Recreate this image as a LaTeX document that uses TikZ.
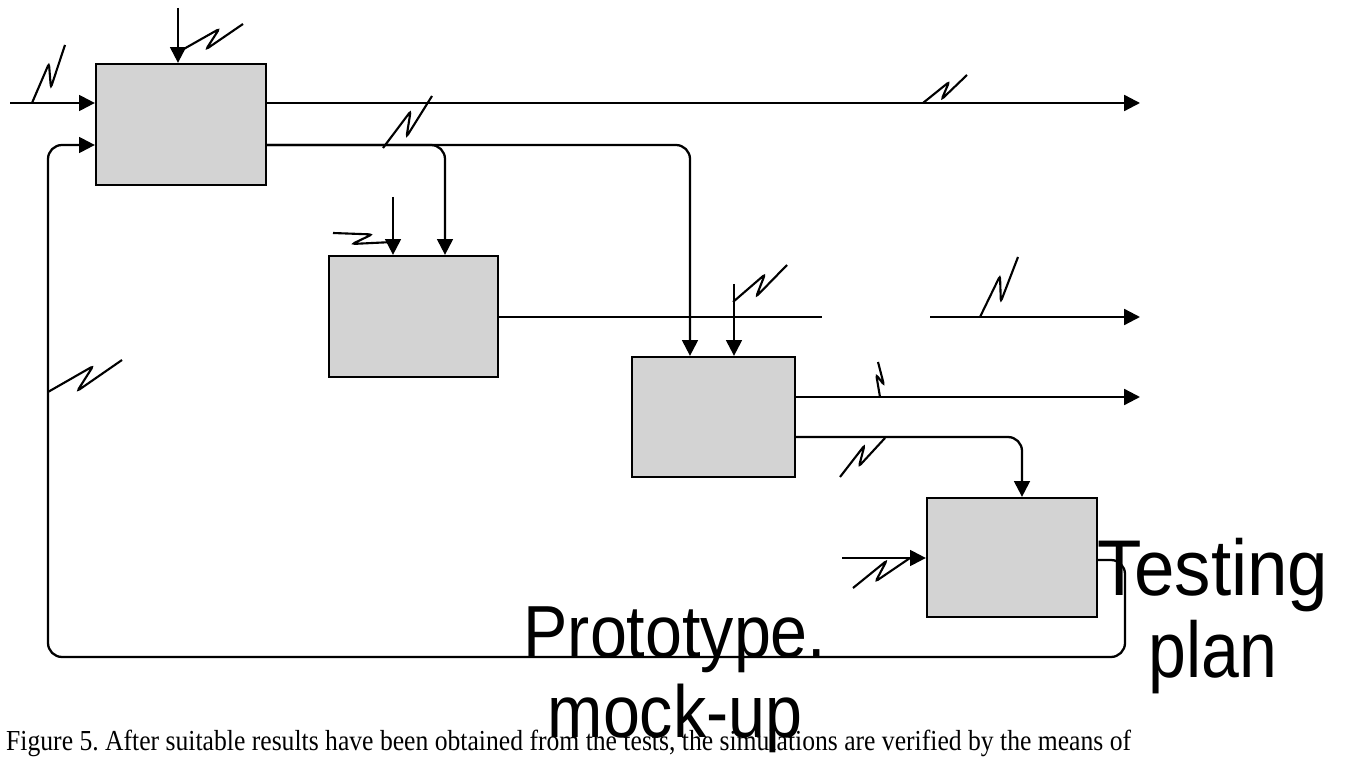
\documentclass[tikz,border=0pt]{standalone}
\usepackage{fontspec}
\setmainfont{Liberation Serif}
\newfontfamily\labelfont{Liberation Sans}
\usetikzlibrary{positioning, calc, arrows.meta}
\definecolor{boxgray}{RGB}{211,211,211}
\tikzset{
    fbox/.style={draw, line width=1.3pt, fill=boxgray, inner sep=0pt},
    flow/.style={line width=1.3pt, -{Triangle[length=9pt,width=9pt]}},
    plain/.style={line width=1.3pt},
    zig/.style={line width=1.2pt, rounded corners=1.5pt},
    bigtext/.style={font=\labelfont\fontsize{45}{46.6}\selectfont, align=center, inner sep=0pt}
}
% IDEF0 squiggle tying a label to its arrow
\newcommand{\zigzag}[2]{\draw[zig] (#1) -- ($(#1)!0.64!(#2)!0.2!90:(#2)$) -- ($(#1)!0.34!(#2)!0.2!-90:(#2)$) -- (#2);}

\begin{document}
\frenchspacing
\begin{tikzpicture}[x=0.02cm, y=-0.02cm]
            \useasboundingbox (0,0) rectangle (1345,766);
            % boxes
            \node[fbox, minimum width=3.4cm, minimum height=2.42cm] (A1) at (181,124.5) {};
            \node[fbox, minimum width=3.38cm, minimum height=2.42cm] (A2) at (413.5,316.5) {};
            \node[fbox, minimum width=3.26cm, minimum height=2.4cm] (A3) at (713.5,417) {};
            \node[fbox, minimum width=3.4cm, minimum height=2.38cm] (A4) at (1012,557.5) {};
            % A1
            \coordinate (in1) at (10,103);
            \coordinate (c1) at (178,8);
            \coordinate (o1) at (1140,103);
            \coordinate (split) at (445,145);
            \coordinate (t3) at (690,145);
            \draw[flow] (in1) -- (in1 -| A1.west);
            \draw[flow] (c1) -- (c1 |- A1.north);
            \draw[flow] (A1.east |- o1) -- (o1);
            \draw[flow, rounded corners=8pt] (A1.east |- split) -- (split) -- (split |- A2.north);
            \draw[flow, rounded corners=8pt] (A1.east |- t3) -- (t3) -- (t3 |- A3.north);
            % A2
            \coordinate (c2) at (393,197);
            \coordinate (gapL) at (822,317);
            \coordinate (gapR) at (930,317);
            \coordinate (o2) at (1140,317);
            \draw[flow] (c2) -- (c2 |- A2.north);
            \draw[plain] (A2.east |- gapL) -- (gapL);
            \draw[flow] (gapR) -- (o2);
            % A3
            \coordinate (c3) at (734,284);
            \coordinate (o3) at (1140,397);
            \coordinate (t4) at (1022,437);
            \draw[flow] (c3) -- (c3 |- A3.north);
            \draw[flow] (A3.east |- o3) -- (o3);
            \draw[flow, rounded corners=8pt] (A3.east |- t4) -- (t4) -- (t4 |- A4.north);
            % A4 and feedback
            \coordinate (in4) at (842,558);
            \coordinate (fb) at (1125,560);
            \coordinate (fbR) at (1125,657);
            \coordinate (fbL) at (48,657);
            \coordinate (fbT) at (48,145);
            \draw[flow] (in4) -- (in4 -| A4.west);
            \draw[flow, rounded corners=8pt] (A4.east |- fb) -- (fb) -- (fbR) -- (fbL) -- (fbT) -- (fbT -| A1.west);
            % squiggles
            \zigzag{32,103}{65,45}
            \zigzag{182,50}{243,24}
            \zigzag{383,148}{432,96}
            \zigzag{923,103}{967,75}
            \zigzag{333,233}{393,242}
            \zigzag{733,302}{787,265}
            \zigzag{980,317}{1018,257}
            \zigzag{880,397}{878,362}
            \zigzag{885,438}{840,477}
            \zigzag{910,558}{853,588}
            \zigzag{48,392}{122,360}
            % texts
            \node[anchor=base west, font=\fontsize{16.5}{18}\selectfont] (cap) at (0,750)
                {\resizebox{22.5cm}{\height}{Figure 5. After suitable results have been obtained from the tests, the simulations are verified by the means of}};
            \node[bigtext, font=\labelfont\fontsize{42}{45.5}\selectfont, anchor=base] (proto) at (675,737) {\scalebox{0.9}[1]{Prototype.}\\\scalebox{0.9}[1]{mock-up}};
            \node[bigtext, anchor=base] (plan) at (1213,677) {\scalebox{0.92}[1]{Testing}\\\scalebox{0.86}[1]{plan}};
\end{tikzpicture}
\end{document}
